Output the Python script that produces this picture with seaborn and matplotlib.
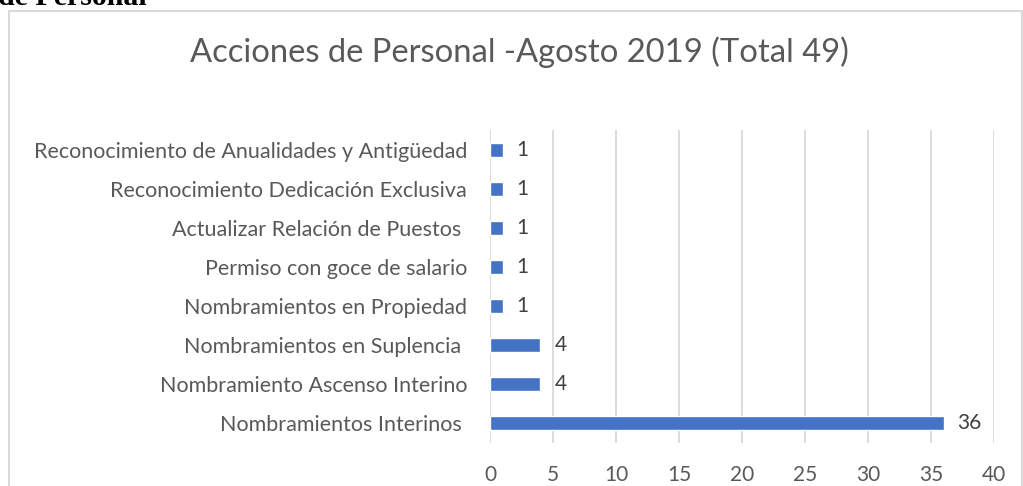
import matplotlib
matplotlib.use("Agg")
import matplotlib.pyplot as plt
from matplotlib.patches import Rectangle
import pandas as pd
import seaborn as sns

# chart values, top row first
acciones = [
    "Reconocimiento de Anualidades y Antigüedad",
    "Reconocimiento Dedicación Exclusiva",
    "Actualizar Relación de Puestos ",
    "Permiso con goce de salario",
    "Nombramientos en Propiedad",
    "Nombramientos en Suplencia ",
    "Nombramiento Ascenso Interino",
    "Nombramientos Interinos ",
]
cantidad = [1, 1, 1, 1, 1, 4, 4, 36]
x_ticks = [0, 5, 10, 15, 20, 25, 30, 35, 40]

titulo = "Acciones de Personal -Agosto 2019 (Total 49)"
encabezado = "de Personal"

df = pd.DataFrame({"accion": acciones, "cantidad": cantidad})

sns.set_theme(style="white")
plt.rcParams["font.family"] = ["Lato", "DejaVu Sans"]

fig = plt.figure(figsize=(10.23, 4.86), dpi=100)
ax = fig.add_axes([490 / 1023, 1 - 443 / 486, 504 / 1023, 313 / 486])

sns.barplot(data=df, x="cantidad", y="accion", orient="h",
            color="#4472C4", width=0.36, saturation=1, ax=ax)

ax.set_xlim(0, 40)
ax.set_xticks(x_ticks)
ax.grid(axis="x", color="#D9D9D9", linewidth=1.3)
ax.set_axisbelow(True)
sns.despine(ax=ax, left=True, bottom=True)
ax.tick_params(axis="y", length=0, pad=16.5, labelsize=15.5, labelcolor="#595959")
ax.tick_params(axis="x", length=0, pad=15.5, labelsize=15, labelcolor="#595959")
ax.set_xlabel("")
ax.set_ylabel("")

for cont in ax.containers:
    ax.bar_label(cont, padding=10, fontsize=15, color="#404040")

# chart title and outer frame
fig.text(519.5 / 1023, 1 - 62 / 486, titulo, ha="center", va="baseline",
         fontsize=23.6, color="#595959")
fig.add_artist(Rectangle((9 / 1023, -0.05), 1013 / 1023, 1 - 11 / 486 + 0.05,
                         transform=fig.transFigure, fill=False,
                         edgecolor="#D9D9D9", linewidth=1.5))

# cut-off heading from the document above the chart
fig.text(147 / 1023, 1 - 5 / 486, encabezado, ha="right", va="baseline",
         fontsize=21.5, fontweight="bold", family="Liberation Serif", color="black")

fig.savefig("out.png", dpi=100)
